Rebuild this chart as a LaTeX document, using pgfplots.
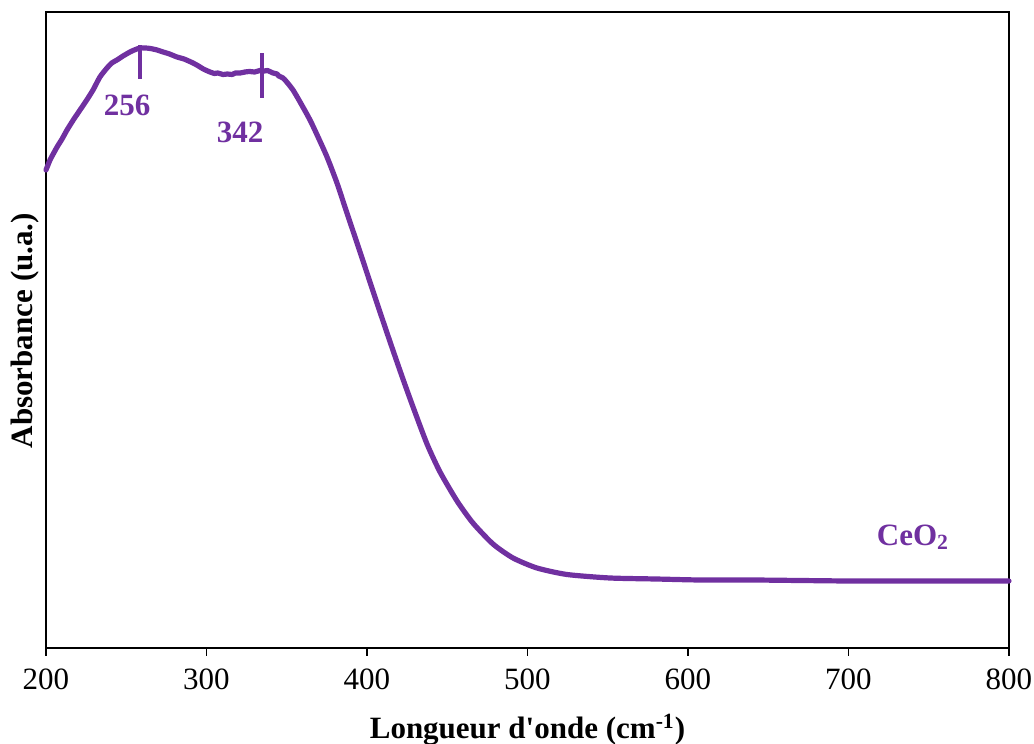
\documentclass[border=0pt]{standalone}
\usepackage{fontspec}
\setmainfont{Liberation Serif}
\usepackage{pgfplots}
\pgfplotsset{compat=1.18}
\definecolor{cpurple}{HTML}{7030A0}
\begin{document}
\begin{tikzpicture}
\begin{axis}[
  scale only axis,
  width=481.5pt, height=318pt,
  at={(0,0)}, anchor=south west,
  xmin=200, xmax=800, ymin=0, ymax=636,
  xtick={200,300,...,800},
  ytick=\empty,
  tick align=outside,
  xtick pos=bottom,
  major tick length=4pt,
  axis line style={line width=0.9pt},
  every tick/.style={black, line width=0.9pt},
  /pgf/number format/assume math mode=true,
  xticklabel style={font=\fontsize{15.5}{18}\selectfont, yshift=-3pt},
  xlabel={\textbf{Longueur d\textquotesingle onde (cm\textsuperscript{-1})}},
  xlabel style={font=\fontsize{15.5}{18}\selectfont, at={(axis description cs:0.5,0)}, anchor=center, yshift=-41pt},
  ylabel={\textbf{Absorbance (u.a.)}},
  ylabel style={font=\fontsize{15.5}{18}\selectfont, at={(axis description cs:0,0.499)}, anchor=center, xshift=0pt, yshift=10.5pt},
  clip=false,
]
\addplot[cpurple, line width=2.6pt, line join=round, line cap=round, smooth, tension=0.4] coordinates {
(200,478) (202.5,488) (204.5,494) (206.9,501) (210,509) (213.1,518) (217,528) (221.2,538) (225,547) (229.3,558)
(233.6,571) (238.0,580) (241,585) (244.2,588) (248,592) (252.3,596) (255,598) (258.6,600) (262,600) (265,599.5) (269.2,598)
(273,596) (277,594) (281.6,591) (286,589) (291.6,585) (295,582) (298,579) (302.2,576) (305,574.5) (307,575) (310.3,573.5) (313,574)
(316,573.5) (318,575) (320.9,575) (324,576) (327,576.5) (330,576) (333.3,577.5) (336,577) (338,577.5) (341.4,575) (344,574) (345,572) (347.7,570)
(350,566) (353.9,558) (358.3,546) (364.5,528) (369.5,511) (375.1,491) (381.3,465) (387.5,435) (393.8,405) (400.0,375)
(406.2,345) (412.5,315) (417.4,292) (422.4,269) (428.7,241) (437.4,204) (445.5,176) (456.1,147) (466.0,125) (478.5,104)
(491.0,90) (505.9,80) (524.6,73.5) (551.4,70) (580,69) (607.5,68) (640,68) (669.8,67.5) (700,67) (732.1,67) (770,67) (800,67)
};
\addplot[cpurple, line width=1.6pt] coordinates {(258.6,569) (258.6,603)};
\addplot[cpurple, line width=1.6pt] coordinates {(334.6,550) (334.6,595)};
\node[cpurple, font=\fontsize{15.5}{18}\selectfont\bfseries] at (axis cs:250.5,543) {256};
\node[cpurple, font=\fontsize{15.5}{18}\selectfont\bfseries] at (axis cs:320.9,516) {342};
\node[cpurple, font=\fontsize{15.5}{18}\selectfont\bfseries] at (axis cs:740.2,111) {CeO\textsubscript{2}};
\end{axis}
\pgfresetboundingbox
\useasboundingbox (-23pt,-48pt) rectangle (494pt,324pt);
\end{tikzpicture}
\end{document}
